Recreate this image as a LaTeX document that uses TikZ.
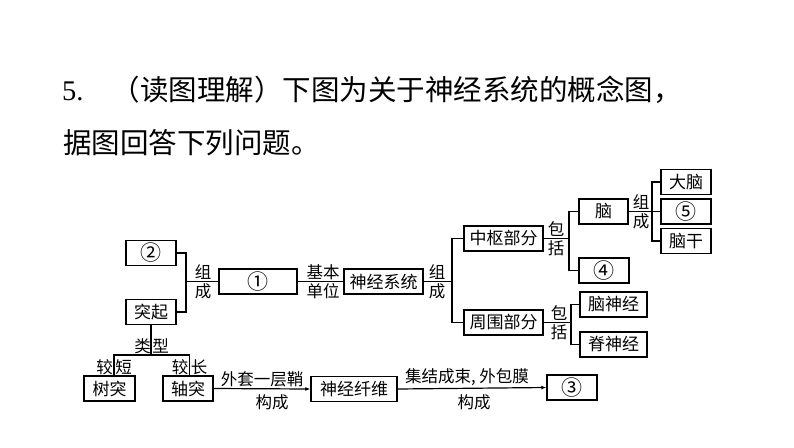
\documentclass[tikz,border=0pt]{standalone}
\usepackage{fontspec}
\setmainfont{Noto Sans CJK SC}
\newfontfamily\numfont{Liberation Serif}
\usetikzlibrary{arrows.meta}
\begin{document}
\begin{tikzpicture}[x=1pt,y=-1pt,
  box/.style={draw,line width=1.3pt,minimum height=25pt,inner sep=0pt,font=\fontsize{17}{17}\selectfont,anchor=center},
  circbox/.style={box,font=\fontsize{21}{21}\selectfont},
  lbl/.style={inner sep=0pt,font=\fontsize{16.5}{17}\selectfont},
  conn/.style={line width=1.2pt},
  arr/.style={conn,-{Latex[length=5pt,width=4pt]}},
  title/.style={anchor=west,inner sep=0pt,font=\fontsize{28.5}{29}\selectfont}]
\fill[white] (0,0) rectangle (794,447);
\useasboundingbox (0,0) rectangle (794,447);
% title
\node[title] (t1) at (62,90) {{\numfont 5.}\hspace{28pt}（读图理解）下图为关于神经系统的概念图，};
\node[title] (t2) at (63,143) {据图回答下列问题。};
% boxes
\node[circbox,minimum width=50pt] (n2) at (151,253) {②};
\node[box,minimum width=50pt] (tq) at (151,312) {突起};
\node[circbox,minimum width=78pt] (n1) at (258,281.5) {①};
\node[box,minimum width=79pt] (sj) at (383.5,281.5) {神经系统};
\node[box,minimum width=79pt] (zs) at (503.5,238.5) {中枢部分};
\node[box,minimum width=79pt] (zw) at (503.5,322.5) {周围部分};
\node[box,minimum width=49pt] (nao) at (603.5,211.5) {脑};
\node[circbox,minimum width=50pt] (n4) at (604,270.5) {④};
\node[box,minimum width=50pt] (dn) at (686,182) {大脑};
\node[circbox,minimum width=50pt] (n5) at (686,211.5) {⑤};
\node[box,minimum width=50pt] (ng) at (686,241) {脑干};
\node[box,minimum width=67pt] (nsj) at (613.5,304.5) {脑神经};
\node[box,minimum width=67pt] (jsj) at (613.5,344.5) {脊神经};
\node[box,minimum width=51pt] (st) at (109.5,388.5) {树突};
\node[box,minimum width=50pt] (zt) at (188,388.5) {轴突};
\node[box,minimum width=86pt] (xw) at (354,389) {神经纤维};
\node[circbox,minimum width=50pt] (n3) at (572,387.5) {③};
% junctions
\coordinate (j1) at (186,281.5);
\coordinate (j2) at (452,281.5);
\coordinate (j3) at (569,238.5);
\coordinate (j4) at (652,211.5);
\coordinate (j5) at (571,322.5);
\coordinate (j6) at (151,355);
\coordinate (s1) at (114,355);
\coordinate (s2) at (189.5,355);
% connectors
\draw[conn] (n2.east) -| (j1);
\draw[conn] (tq.east) -| (j1);
\draw[conn] (j1) -- (n1.west);
\draw[conn] (n1.east) -- (sj.west);
\draw[conn] (sj.east) -- (j2);
\draw[conn] (zs.west) -| (j2) |- (zw.west);
\draw[conn] (zs.east) -- (j3);
\draw[conn] (nao.west) -| (j3) |- (n4.west);
\draw[conn] (nao.east) -- (n5.west);
\draw[conn] (dn.west) -| (j4) |- (ng.west);
\draw[conn] (zw.east) -- (j5);
\draw[conn] (nsj.west) -| (j5) |- (jsj.west);
\draw[conn] (tq.south) -- (j6);
\draw[conn] (st.north -| s1) |- (j6) -| (zt.north -| s2);
\draw[arr] (zt.east) -- (xw.west);
\draw[arr] (xw.east) -- (n3.west);
% labels
\node[lbl] (l1a) at (203,272.5) {组};
\node[lbl] (l1b) at (203,291.5) {成};
\node[lbl] (l2a) at (323,272.5) {基本};
\node[lbl] (l2b) at (323,291.5) {单位};
\node[lbl] (l3a) at (437,272.5) {组};
\node[lbl] (l3b) at (437,291.5) {成};
\node[lbl] (l4a) at (556,229) {包};
\node[lbl] (l4b) at (556,248) {括};
\node[lbl] (l5a) at (641,202.5) {组};
\node[lbl] (l5b) at (641,221.5) {成};
\node[lbl] (l6a) at (559,313) {包};
\node[lbl] (l6b) at (559,332) {括};
\node[lbl] (l7a) at (142.5,346) {类};
\node[lbl] (l7b) at (160.5,346) {型};
\node[lbl] (l8a) at (104.5,367.5) {较};
\node[lbl] (l8b) at (123.5,367.5) {短};
\node[lbl] (l9a) at (180,367.5) {较};
\node[lbl] (l9b) at (199,367.5) {长};
\node[lbl] (l10a) at (262,379) {外套一层鞘};
\node[lbl] (l10b) at (272,402) {构成};
\node[lbl] (l11a) at (467,377) {集结成束, 外包膜};
\node[lbl] (l11b) at (474,402) {构成};
\end{tikzpicture}
\end{document}
